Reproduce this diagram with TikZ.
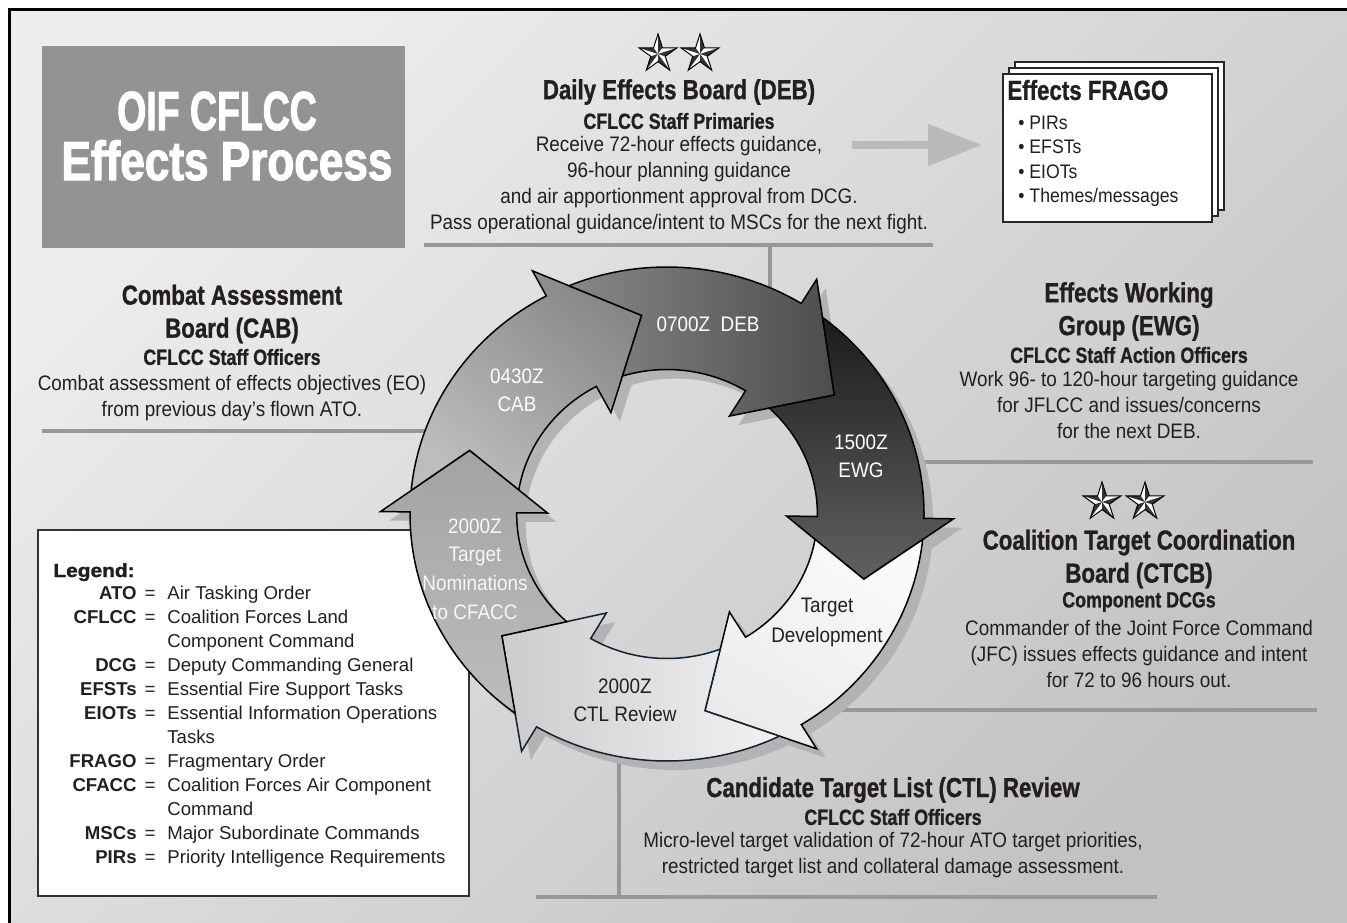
\documentclass[tikz,border=0pt]{standalone}
\usepackage{fontspec}
\setmainfont{Liberation Sans}
\newfontfamily\hfont[FakeStretch=0.81,FakeBold=1]{Liberation Sans}
\newfontfamily\bigfont[FakeStretch=0.81,FakeBold=2]{Liberation Sans}
\newfontfamily\bfont[FakeStretch=0.9]{Liberation Sans}
\newfontfamily\lgfont[FakeStretch=1.1,FakeBold=1.5]{Liberation Sans}
\usetikzlibrary{arrows.meta}
\definecolor{bgtop}{HTML}{EDEDED}
\definecolor{bgbot}{HTML}{C2C2C4}
\definecolor{titlegray}{HTML}{939396}
\definecolor{txtc}{HTML}{231F20}
\definecolor{linec}{HTML}{98989B}
\definecolor{shadowc}{HTML}{B3B3B6}
\definecolor{arrowgray}{HTML}{BABABD}
\definecolor{ctlline}{HTML}{0D2433}
\tikzset{
  sepline/.style={line width=2.4pt, draw=linec},
  blkhead/.style={font=\hfont\bfseries\fontsize{13.75}{16.5}\selectfont, text=txtc, align=center, inner sep=0pt},
  blksub/.style={font=\hfont\bfseries\fontsize{11}{13}\selectfont, text=txtc, align=center, inner sep=0pt},
  blkbody/.style={font=\bfont\fontsize{10.5}{13}\selectfont, text=txtc, align=center, inner sep=0pt},
  ringlbl/.style={font=\bfont\fontsize{10.5}{14}\selectfont, align=center, inner sep=0pt},
  lgkey/.style={font=\bfseries\fontsize{9.3}{12}\selectfont, anchor=base east, inner sep=0pt, text=txtc},
  lgeq/.style={font=\fontsize{9.3}{12}\selectfont, anchor=base, inner sep=0pt, text=txtc},
  lgval/.style={font=\fontsize{9.3}{12}\selectfont, anchor=base west, inner sep=0pt, text=txtc},
  fragoitem/.style={anchor=base west, inner sep=0pt, text=txtc, font=\bfont\fontsize{9.8}{12}\selectfont},
  ringedge/.style={draw=black, line width=0.75pt, line join=miter},
  fragopage/.style={fill=white, draw=black!85, line width=0.7pt},
}
% ring segment: prev outer crossing, prev tip, prev inner crossing, base, tip
\newcommand\ringseg[5]{(#1:1pt) -- (#2:0.81pt) -- (#3:0.585pt) arc[start angle=#3, end angle=#4, radius=0.585pt] -- (#4:0.465pt) -- (#5:0.81pt) -- (#4:1.115pt) -- (#4:1pt) arc[start angle=#4, end angle=#1, radius=1pt] -- cycle}
\newcommand\navstar[1]{%
  \begin{scope}[shift={#1}]
    \foreach \k in {0,...,4} {
      \fill[white] (0,0) -- (90+72*\k:10pt) -- (126+72*\k:3.8pt) -- cycle;
      \fill[black!80] (0,0) -- (90+72*\k:10pt) -- (54+72*\k:3.8pt) -- cycle;
    }
    \draw[line width=0.5pt, line join=miter] (90:10pt) \foreach \k in {0,...,4}{ -- (126+72*\k:3.8pt) -- (162+72*\k:10pt)} -- cycle;
  \end{scope}}
\begin{document}
\begin{tikzpicture}[x=0.5pt,y=-0.5pt]
\useasboundingbox (0,0) rectangle (1347,922);
\fill[white] (0,0) rectangle (1347,922);
\shade[top color=bgtop, bottom color=bgbot, shading angle=45] (9,9) rectangle (1356,932);
\draw[line width=1.7pt] (9.5,9.5) rectangle (1356,932);

% separator lines
\draw[sepline] (424,245) -- (933,245);
\draw[sepline] (770,245) -- (770,300);
\draw[sepline] (42,431) -- (460,431);
\draw[sepline] (900,462) -- (1313,462);
\draw[sepline] (800,710) -- (1317,710);
\draw[sepline] (619,745) -- (619,897);
\draw[sepline] (536,897) -- (1157,897);

% title box
\node (titlebox) [fill=titlegray, minimum width=181.5pt, minimum height=101pt, inner sep=0pt] at (223.5,147) {};
\node (title1) [anchor=base, text=white, inner sep=0pt, font=\bigfont\bfseries\fontsize{27.5}{30}\selectfont] at (217,130) {\scalebox{0.84}[1]{OIF CFLCC}};
\node (title2) [anchor=base, text=white, inner sep=0pt, font=\bigfont\bfseries\fontsize{27.5}{30}\selectfont] at (227,180) {\scalebox{0.99}[1]{Effects Process}};

% legend box
\node (legendbox) [fill=white, draw=black!80, line width=0.7pt, minimum width=215.5pt, minimum height=183pt, inner sep=0pt] at (253.5,713) {};
\node (lgh) [anchor=base west, inner sep=0pt, text=txtc, font=\lgfont\bfseries\fontsize{9.5}{12}\selectfont] at (53,577) {Legend:};
\node[lgkey] (k1) at (137,599.5) {ATO};   \node[lgeq] (e1) at (150,599.5) {=}; \node[lgval] (v1) at (167,599.5) {Air Tasking Order};
\node[lgkey] (k2) at (137,623.5) {CFLCC}; \node[lgeq] (e2) at (150,623.5) {=}; \node[lgval] (v2) at (167,623.5) {Coalition Forces Land};
\node[lgval] (v2b) at (167,647.5) {Component Command};
\node[lgkey] (k3) at (137,671.5) {DCG};   \node[lgeq] (e3) at (150,671.5) {=}; \node[lgval] (v3) at (167,671.5) {Deputy Commanding General};
\node[lgkey] (k4) at (137,695.5) {EFSTs}; \node[lgeq] (e4) at (150,695.5) {=}; \node[lgval] (v4) at (167,695.5) {Essential Fire Support Tasks};
\node[lgkey] (k5) at (137,719.5) {EIOTs}; \node[lgeq] (e5) at (150,719.5) {=}; \node[lgval] (v5) at (167,719.5) {Essential Information Operations};
\node[lgval] (v5b) at (167,743.5) {Tasks};
\node[lgkey] (k6) at (137,767.5) {FRAGO}; \node[lgeq] (e6) at (150,767.5) {=}; \node[lgval] (v6) at (167,767.5) {Fragmentary Order};
\node[lgkey] (k7) at (137,791.5) {CFACC}; \node[lgeq] (e7) at (150,791.5) {=}; \node[lgval] (v7) at (167,791.5) {Coalition Forces Air Component};
\node[lgval] (v7b) at (167,815.5) {Command};
\node[lgkey] (k8) at (137,839.5) {MSCs};  \node[lgeq] (e8) at (150,839.5) {=}; \node[lgval] (v8) at (167,839.5) {Major Subordinate Commands};
\node[lgkey] (k9) at (137,863.5) {PIRs};  \node[lgeq] (e9) at (150,863.5) {=}; \node[lgval] (v9) at (167,863.5) {Priority Intelligence Requirements};

% ring shadow
\begin{scope}[shift={(676,523)}, xscale=128.5, yscale=123.5]
  \fill[shadowc] \ringseg{174.55}{161.5}{170.42}{118}{97};
  \fill[shadowc] \ringseg{112.44}{97}{107.22}{58.5}{36.5};
  \fill[shadowc] \ringseg{52.76}{36.5}{47.15}{-1}{-19};
  \fill[shadowc] \ringseg{-5.95}{-19}{-10.08}{-58.5}{-79.5};
  \fill[shadowc] \ringseg{-64.06}{-79.5}{-69.28}{-120.5}{-142.5};
  \fill[shadowc] \ringseg{-126.24}{-142.5}{-131.85}{-180.5}{-198.5};
\end{scope}
% ring arrows
\begin{scope}[shift={(667,514)}, xscale=128.5, yscale=123.5]
  % CAB
  \shadedraw[ringedge, top color=black!47, bottom color=black!26, shading angle=-40] \ringseg{174.55}{161.5}{170.42}{118}{97};
  % DEB
  \shadedraw[ringedge, top color=black!70, bottom color=black!47, shading angle=-90] \ringseg{112.44}{97}{107.22}{58.5}{36.5};
  % EWG
  \shadedraw[ringedge, top color=black!62, bottom color=black!89, shading angle=180] \ringseg{52.76}{36.5}{47.15}{-1}{-19};
  % Target development
  \shadedraw[ringedge, top color=black!2, bottom color=black!8, shading angle=-30] \ringseg{-5.95}{-19}{-10.08}{-58.5}{-79.5};
  % CTL
  \shadedraw[ringedge, draw=ctlline, top color=black!20, bottom color=black!5, shading angle=90] \ringseg{-64.06}{-79.5}{-69.28}{-120.5}{-142.5};
  % 2000Z nominations
  \shadedraw[ringedge, top color=black!36, bottom color=black!26, shading angle=0] \ringseg{-126.24}{-142.5}{-131.85}{-180.5}{-198.5};
\end{scope}

% ring labels
\node[ringlbl, text=white] (lDEB) at (708,324) {0700Z\ \ DEB};
\node[ringlbl, text=white] (lCAB) at (517,390) {0430Z\\CAB};
\node[ringlbl, text=white] (lEWG) at (861,456) {1500Z\\EWG};
\node[ringlbl, text=black!3, font=\bfont\fontsize{10.5}{14.3}\selectfont] (lTN) at (475,569) {2000Z\\Target\\Nominations\\to CFACC};
\node[ringlbl, text=txtc, font=\bfont\fontsize{10.5}{15}\selectfont] (lTD) at (827,622) {Target\\Development};
\node[ringlbl, text=txtc] (lCTL) at (625,700) {2000Z\\CTL Review};

% DEB block
\navstar{(658,54)}
\navstar{(700,54)}
\node[blkhead] (debT) at (679,92) {Daily Effects Board (DEB)};
\node[blksub] (debS) at (679,121) {CFLCC Staff Primaries};
\node[blkbody] (debB) at (679,185) {Receive 72-hour effects guidance,\\96-hour planning guidance\\and air apportionment approval from DCG.\\Pass operational guidance/intent to MSCs for the next fight.};

% arrow to FRAGO
\coordinate (ga1) at (852,145);
\coordinate (ga2) at (982,145);
\draw[line width=4pt, draw=arrowgray, -{Triangle[length=27pt, width=20pt]}] (ga1) -- (ga2);

% FRAGO pages
\draw[fragopage] (1015,62) rectangle (1224,210);
\draw[fragopage] (1009,68) rectangle (1218,216);
\node (frago) [fragopage, minimum width=104.5pt, minimum height=74pt, inner sep=0pt] at (1107.5,148) {};
\node[anchor=west, inner sep=0pt, text=txtc, font=\hfont\bfseries\fontsize{13.75}{16}\selectfont] (fragoT) at (1007,90) {Effects FRAGO};
\node[fragoitem] (f1) at (1018,129) {\textbullet\ PIRs};
\node[fragoitem] (f2) at (1018,153) {\textbullet\ EFSTs};
\node[fragoitem] (f3) at (1018,178) {\textbullet\ EIOTs};
\node[fragoitem] (f4) at (1018,202) {\textbullet\ Themes/messages};

% CAB block
\node[blkhead] (cabT) at (232,314) {Combat Assessment\\Board (CAB)};
\node[blksub] (cabS) at (232,357) {CFLCC Staff Officers};
\node[blkbody] (cabB) at (232,398.5) {Combat assessment of effects objectives (EO)\\from previous day’s flown ATO.};

% EWG block
\node[blkhead] (ewgT) at (1129,311.5) {Effects Working\\Group (EWG)};
\node[blksub] (ewgS) at (1129,355) {CFLCC Staff Action Officers};
\node[blkbody] (ewgB) at (1129,405) {Work 96- to 120-hour targeting guidance\\for JFLCC and issues/concerns\\for the next DEB.};

% CTCB block
\navstar{(1102,502)}
\navstar{(1145,502)}
\node[blkhead] (ctcbT) at (1139,559) {Coalition Target Coordination\\Board (CTCB)};
\node[blksub] (ctcbS) at (1139,602) {Component DCGs};
\node[blkbody] (ctcbB) at (1139,654) {Commander of the Joint Force Command\\(JFC) issues effects guidance and intent\\for 72 to 96 hours out.};

% CTL block
\node[blkhead] (ctlT) at (893,790) {Candidate Target List (CTL) Review};
\node[blksub] (ctlS) at (893,817) {CFLCC Staff Officers};
\node[blkbody] (ctlB) at (893,855.5) {Micro-level target validation of 72-hour ATO target priorities,\\restricted target list and collateral damage assessment.};
\end{tikzpicture}
\end{document}
